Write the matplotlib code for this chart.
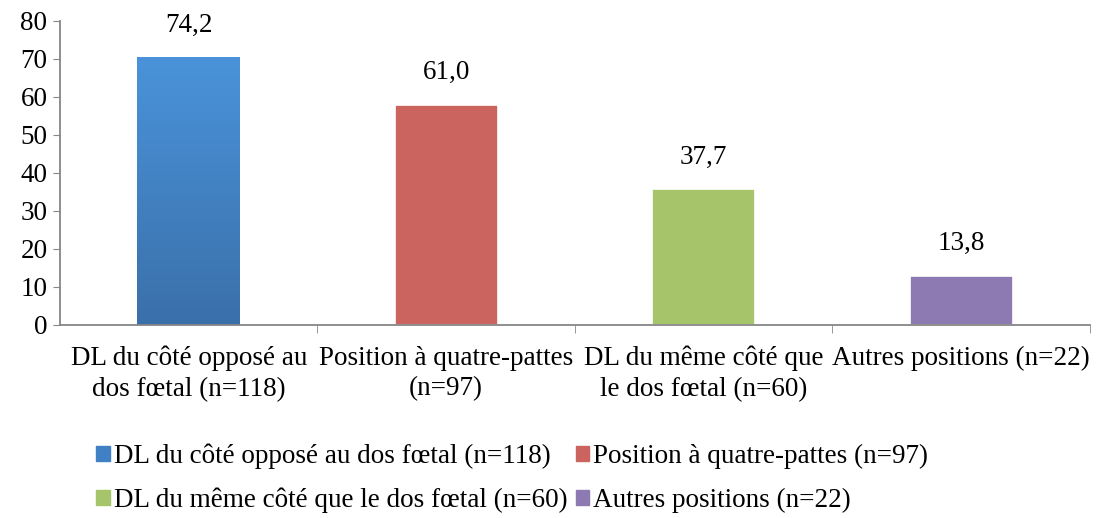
import matplotlib
matplotlib.use('Agg')
import matplotlib.pyplot as plt
import matplotlib.patches as mpatches
import numpy as np

plt.rcParams['font.family'] = ['Liberation Serif', 'DejaVu Serif']

# categories and values
categories = ['DL du côté opposé au\ndos fœtal (n=118)',
              'Position à quatre-pattes\n(n=97)',
              'DL du même côté que\nle dos fœtal (n=60)',
              'Autres positions (n=22)']
legend_names = ['DL du côté opposé au dos fœtal (n=118)',
                'Position à quatre-pattes (n=97)',
                'DL du même côté que le dos fœtal (n=60)',
                'Autres positions (n=22)']
bar_heights = [70.5, 58.0, 35.7, 13.0]    # heights as drawn in the picture
value_labels = [74.2, 61.0, 37.7, 13.8]   # printed data labels
colors = ['#4080C4', '#CB645E', '#A6C46A', '#8E7AB2']

fs = 19.5

fig = plt.figure(figsize=(10.98, 5.18), dpi=100)
ax = fig.add_axes([0.0546, 0.3726, 0.938, 0.587])

x = np.arange(len(categories))
bars = ax.bar(x, bar_heights, width=0.4, color=colors, edgecolor='white', linewidth=1.2, zorder=2)

# gradient on first bar (light top, darker bottom)
b0 = bars[0]
grad = np.linspace(0, 1, 256).reshape(-1, 1)
cmap = matplotlib.colors.LinearSegmentedColormap.from_list('g', ['#3A70AA', '#4A93DA'])
im = ax.imshow(grad, cmap=cmap, origin='lower', aspect='auto', zorder=2.5,
               extent=[b0.get_x(), b0.get_x() + b0.get_width(), 0, b0.get_height()])
im.set_clip_path(b0)

for xi, h, v in zip(x, bar_heights, value_labels):
    ax.annotate(f'{v:.1f}'.replace('.', ','), (xi, h), xytext=(0, 23),
                textcoords='offset points', ha='center', va='center', fontsize=fs)

ax.set_ylim(0, 80)
ax.set_yticks(range(0, 81, 10))
ax.set_xticks(x)
ax.set_xticklabels(categories, fontsize=fs, linespacing=1.3)
ax.set_xticks(np.arange(0.5, len(categories) - 0.4, 1), minor=True)
ax.tick_params(axis='x', which='major', length=0, pad=15)
ax.tick_params(axis='x', which='minor', length=6, color='#868686', direction='out')
ax.tick_params(axis='y', labelsize=fs, length=5, color='#868686', pad=4)
ax.set_xlim(-0.5, len(categories) - 0.5)

for s in ['top', 'right']:
    ax.spines[s].set_visible(False)
for s in ['left', 'bottom']:
    ax.spines[s].set_color('#868686')
    ax.spines[s].set_linewidth(1.3)

handles = [mpatches.Patch(color=c, label=n) for c, n in zip(colors, legend_names)]
order = [0, 2, 1, 3]  # fill legend row by row
fig.legend(handles=[handles[i] for i in order], ncol=2, loc='upper left',
           bbox_to_anchor=(0.078, 0.165), frameon=False, fontsize=fs,
           handlelength=0.5, handleheight=0.5, handletextpad=0.15,
           columnspacing=0.3, labelspacing=0.7, borderaxespad=0)

fig.savefig('out.png', dpi=100)
